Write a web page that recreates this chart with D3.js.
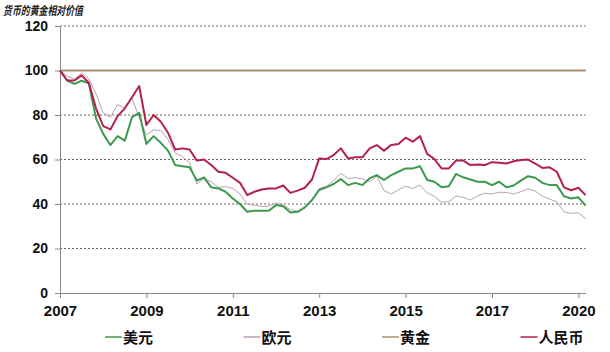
<!DOCTYPE html>
<html>
<head>
<meta charset="utf-8">
<script src="https://cdn.jsdelivr.net/npm/d3@7"></script>
<style>
  body { margin: 0; background: #fff; }
  text { font-family: "Liberation Sans", Arial, "Noto Sans CJK SC", sans-serif; }
</style>
</head>
<body>
<div id="chart"></div>
<script>
// chart data: bi-monthly samples starting 2007-01, value of each currency in gold (2007 = 100)
const tickIndex  = [0, 12, 24, 36, 48, 60, 72];
const tickLabels = ["2007", "2009", "2011", "2013", "2015", "2017", "2020"];
const yTicks     = [0, 20, 40, 60, 80, 100, 120];

const usd = [100, 95.5, 94, 95.4, 94.3, 78.5, 71.5, 66.5, 70.5, 68.5, 79, 81,
  67, 70.5, 67.5, 64, 57.5, 57, 56.5, 50.5, 52, 47.5, 47, 45.5,
  42.5, 40, 36.5, 37, 37, 37, 39.5, 39, 36.2, 36.5, 38.5, 41.8,
  46.3, 47.5, 49, 51.2, 48.5, 49.5, 48.5, 51.5, 53, 50.8, 53, 54.5,
  56, 56, 57, 50.8, 50, 47.5, 48, 53.5, 52, 51, 50, 50,
  48.5, 50, 47.5, 48.3, 50.5, 52.5, 51.8, 49.5, 48.5, 48.5, 43.5, 42.5,
  43, 39.3];

const eur = [100, 97.5, 96.2, 98.8, 96.3, 89.5, 81, 79, 84.7, 83, 87.5, 79,
  71, 73.3, 73, 69, 63, 61.3, 58.5, 49, 51.5, 50, 47.5, 47.8,
  47, 44.5, 40, 39.5, 38.8, 39, 40.5, 39.5, 37.5, 36.8, 38.2, 42,
  47, 48, 50.5, 53.8, 51.5, 51.8, 51.3, 50, 52.5, 46, 44.5, 46.3,
  48, 47, 48.5, 45, 43.5, 40.8, 41, 43.5, 43, 41.8, 43.6, 44.8,
  44.5, 45.3, 45.2, 44.5, 45.5, 46.8, 45.8, 43.5, 42.2, 41, 36.5, 35.8,
  36, 33.5];

const gold = [100, 100, 100, 100, 100, 100, 100, 100, 100, 100, 100, 100,
  100, 100, 100, 100, 100, 100, 100, 100, 100, 100, 100, 100,
  100, 100, 100, 100, 100, 100, 100, 100, 100, 100, 100, 100,
  100, 100, 100, 100, 100, 100, 100, 100, 100, 100, 100, 100,
  100, 100, 100, 100, 100, 100, 100, 100, 100, 100, 100, 100,
  100, 100, 100, 100, 100, 100, 100, 100, 100, 100, 100, 100,
  100, 100];

const cny = [100, 95.5, 95.5, 97.8, 94.5, 83, 75, 73.5, 79.5, 83, 88, 93,
  75.5, 80, 77, 72, 64.5, 65, 64.5, 59.5, 60, 57.5, 54.5, 54,
  51.8, 49.5, 44, 45.5, 46.5, 47, 47, 48.3, 45, 46, 47.3, 51,
  60.5, 60.2, 62, 65, 60.5, 61, 61, 65, 66.5, 64, 66.5, 67,
  69.8, 68, 70.5, 62.5, 60.2, 56, 56, 59.5, 59.5, 57.5, 57.8, 57.5,
  58.8, 58.5, 58.2, 59.2, 59.8, 60, 58.2, 56.2, 56.5, 54.5, 47.5, 46.2,
  47.3, 44];

const seriesNames = ["美元", "欧元", "黄金", "人民币"];
const seriesData  = [usd, eur, gold, cny];
const colors      = ["#3c9a4e", "#b9a0b8", "#a89068", "#b3214a"];
const widths      = [2, 1, 2, 2];

const W = 610, H = 352;
const svg = d3.select("#chart").append("svg")
  .attr("width", W)
  .attr("height", H);

svg.append("rect").attr("width", W).attr("height", H).attr("fill", "#fff");

const x = d3.scaleLinear().domain([0, 73]).range([60, 60 + 73 * 7.2]);
const y = d3.scaleLinear().domain([0, 120]).range([293, 26]);

// title
svg.append("text")
  .attr("x", 3)
  .attr("y", 15)
  .attr("textLength", 80)
  .attr("lengthAdjust", "spacingAndGlyphs")
  .style("font-family", "'Noto Sans CJK SC', sans-serif")
  .style("font-size", "12px")
  .style("font-weight", "bold")
  .style("font-style", "italic")
  .attr("fill", "#222")
  .text("货币的黄金相对价值");

// dotted gridlines
svg.append("g")
  .selectAll("line")
  .data(yTicks.filter(d => d > 0))
  .join("line")
    .attr("x1", x(0))
    .attr("x2", x(73))
    .attr("y1", d => y(d))
    .attr("y2", d => y(d))
    .attr("stroke", "#666")
    .attr("stroke-width", 1)
    .attr("stroke-dasharray", "2,2");

// y axis
const yAxis = svg.append("g")
  .attr("transform", `translate(${x(0)},0)`)
  .call(d3.axisLeft(y).tickValues(yTicks).tickSize(5).tickSizeOuter(0).tickPadding(7));

// x axis
const xAxis = svg.append("g")
  .attr("transform", `translate(0,${y(0)})`)
  .call(d3.axisBottom(x).tickValues(tickIndex)
    .tickFormat((d, i) => tickLabels[i])
    .tickSize(5).tickSizeOuter(0).tickPadding(7));

[yAxis, xAxis].forEach(g => {
  g.select(".domain").attr("stroke", "#888");
  g.selectAll(".tick line").attr("stroke", "#888");
  g.selectAll("text")
    .attr("fill", "#111")
    .style("font-family", "'Liberation Sans', Arial, sans-serif")
    .style("font-weight", "bold");
});
yAxis.selectAll("text").style("font-size", "14px");
xAxis.selectAll("text").style("font-size", "15px");

// lines (euro first so the others sit on top of it)
const line = d3.line()
  .x((d, i) => x(i))
  .y(d => y(d));

[2, 1, 0, 3].forEach(k => {
  svg.append("path")
    .datum(seriesData[k])
    .attr("fill", "none")
    .attr("stroke", colors[k])
    .attr("stroke-width", widths[k])
    .attr("stroke-linejoin", "round")
    .attr("d", line);
});

// legend
const legend = svg.append("g")
  .selectAll("g")
  .data(seriesNames)
  .join("g")
    .attr("transform", (d, i) => `translate(${105 + i * 138.5},337)`);

legend.append("line")
  .attr("x1", 0)
  .attr("x2", 17)
  .attr("stroke", (d, i) => colors[i])
  .attr("stroke-width", 1.5);

legend.append("text")
  .attr("x", 18)
  .attr("y", 6)
  .style("font-family", "'Noto Sans CJK SC', sans-serif")
  .style("font-size", "15px")
  .style("font-weight", "bold")
  .attr("fill", "#111")
  .text(d => d);
</script>
</body>
</html>
